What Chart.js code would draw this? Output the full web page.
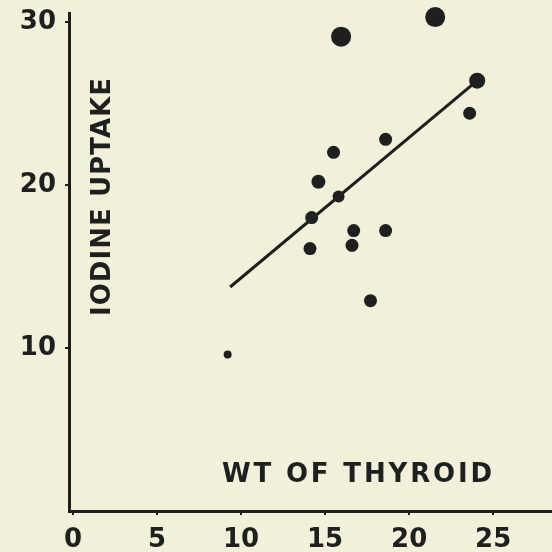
<!DOCTYPE html>
<html>
<head>
<meta charset="utf-8">
<script src="https://cdn.jsdelivr.net/npm/chart.js@4.4.1/dist/chart.umd.min.js"></script>
<style>
  html, body { margin: 0; padding: 0; background: #f2efdb; overflow: hidden; }
  canvas { display: block; }
</style>
</head>
<body>
<canvas id="myChart" width="552" height="552"></canvas>
<script>
// values
let thyroidWt    = [9.2, 14.1, 14.2, 14.6, 15.5, 15.8, 15.95, 16.6, 16.7, 17.7, 18.6, 18.6, 21.55, 23.6, 24.05];
let iodineUptake = [9.6, 16.1, 18.0, 20.2, 22.0, 19.3, 29.1, 16.3, 17.2, 12.9, 22.8, 17.2, 30.3, 24.4, 26.4];
// fitted line end points
let fitX = [9.35, 24.05];
let fitY = [13.74, 26.4];
// tick labels
let xTicks = [0, 5, 10, 15, 20, 25];
let yTicks = [10, 20, 30];
let xTitle = "WT OF THYROID";
let yTitle = "IODINE UPTAKE";

const ink = "#1d201d";
const labelFont = { family: "DejaVu Sans", size: 26, weight: "bold" };

// dot sizes vary on the original
let dotSize = [4, 6.5, 6.5, 7, 6.5, 6, 10, 6.5, 6.5, 6.5, 6.5, 6.5, 10, 6.5, 8];

function toPoints(xs, ys){
    return xs.map((x, i) => ({ x: x, y: ys[i] }));
}

// axis titles sit inside the plot area, so draw them by hand
const titlePlugin = {
    id: "innerTitles",
    afterDraw(chart){
        const ctx = chart.ctx;
        ctx.save();
        ctx.fillStyle = ink;
        ctx.font = "bold 26px 'DejaVu Sans'";
        ctx.textBaseline = "alphabetic";
        ctx.textAlign = "left";

        // x title
        ctx.letterSpacing = "0px";
        let w = ctx.measureText(xTitle).width;
        let sp = (270 - w) / (xTitle.length - 1);
        ctx.letterSpacing = sp + "px";
        ctx.fillText(xTitle, 222, 482);

        // y title, rotated
        ctx.letterSpacing = "0px";
        w = ctx.measureText(yTitle).width;
        sp = (238 - w) / (yTitle.length - 1);
        ctx.letterSpacing = sp + "px";
        ctx.translate(110, 316);
        ctx.rotate(-Math.PI / 2);
        ctx.fillText(yTitle, 0, 0);
        ctx.restore();
    }
};

let ctx = document.getElementById("myChart").getContext("2d");

var chart = new Chart(ctx, {
    type: "scatter",
    data: {
        datasets: [
            {
                label: "points",
                data: toPoints(thyroidWt, iodineUptake),
                backgroundColor: ink,
                borderColor: ink,
                borderWidth: 0,
                pointRadius: dotSize,
                clip: false,
            },
            {
                type: "line",
                label: "fit",
                data: toPoints(fitX, fitY),
                borderColor: ink,
                borderWidth: 3,
                pointRadius: 0,
                fill: false,
            },
        ],
    },
    options: {
        responsive: false,
        animation: false,
        // autoPadding off, otherwise the big dots push the right edge in
        layout: { autoPadding: false, padding: { top: 13, right: 0, left: 0, bottom: 0 } },
        plugins: { legend: { display: false }, tooltip: { enabled: false } },
        scales: {
            x: {
                type: "linear",
                min: -0.24,
                max: 28.5,
                afterBuildTicks: s => { s.ticks = xTicks.map(v => ({ value: v })); },
                afterFit: s => { s.height = 41; s.paddingLeft = 0; s.paddingRight = 0; },
                grid: { drawOnChartArea: false, color: ink, lineWidth: 2, tickLength: 4 },
                border: { color: ink, width: 3 },
                ticks: { color: ink, font: labelFont, padding: 10, maxRotation: 0, autoSkip: false },
            },
            y: {
                type: "linear",
                min: 0,
                max: 30.55,
                afterBuildTicks: s => { s.ticks = yTicks.map(v => ({ value: v })); },
                afterFit: s => { s.width = 69; s.paddingTop = 0; s.paddingBottom = 0; },
                grid: { drawOnChartArea: false, color: ink, lineWidth: 2, tickLength: 4 },
                border: { color: ink, width: 3 },
                ticks: { color: ink, font: labelFont, padding: 9, autoSkip: false },
            },
        },
    },
    plugins: [titlePlugin],
});
</script>
</body>
</html>
